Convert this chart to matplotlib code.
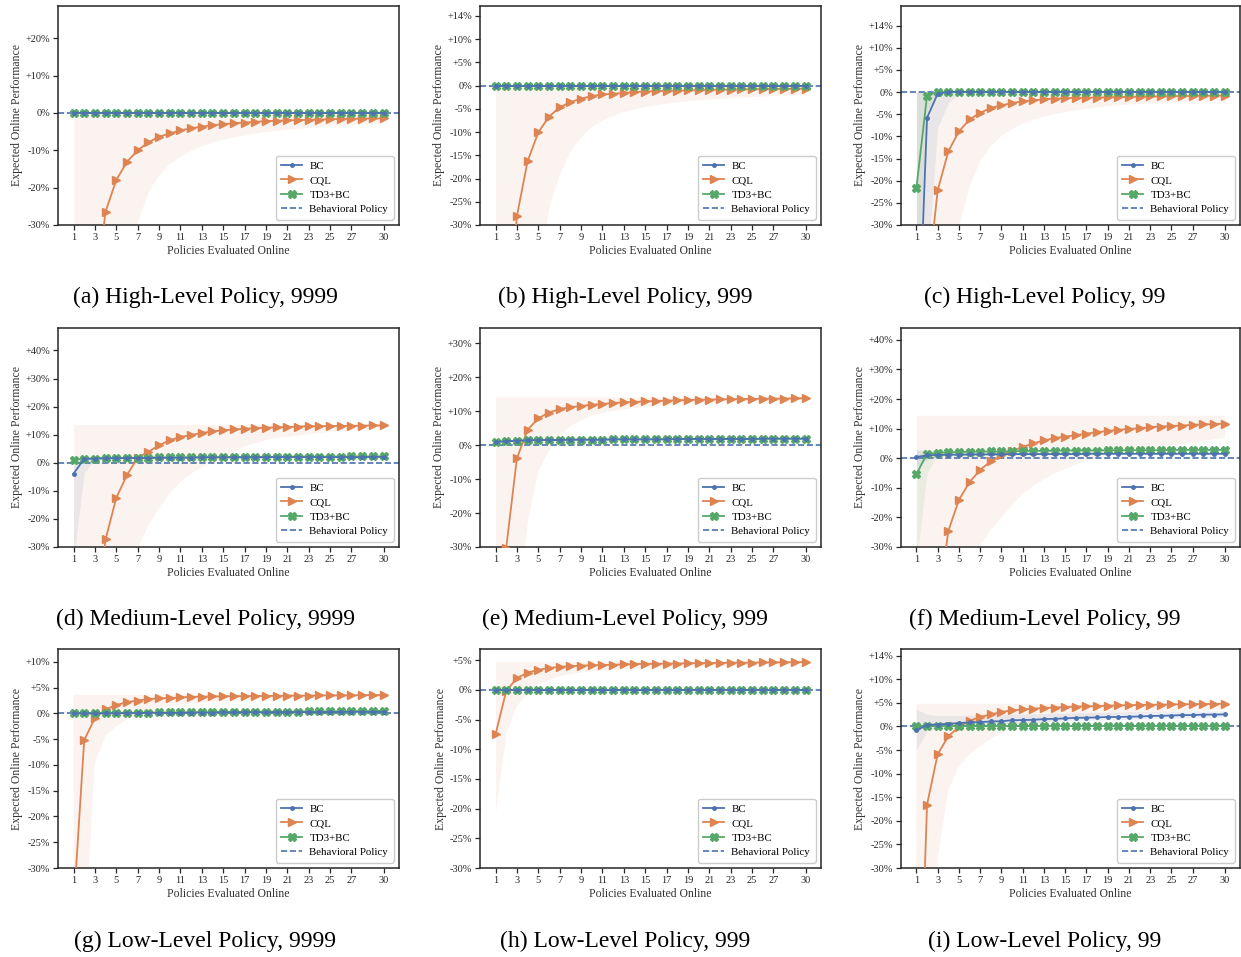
import matplotlib
matplotlib.use("Agg")
import matplotlib.pyplot as plt
import numpy as np

plt.rcParams['font.family'] = ['Liberation Serif', 'DejaVu Serif']
plt.rcParams['axes.edgecolor'] = '#262626'
plt.rcParams['xtick.color'] = '#262626'
plt.rcParams['ytick.color'] = '#262626'

BLUE = '#4C72B0'
ORANGE = '#DD8452'
GREEN = '#55A868'

""" data read off the figure (percent vs. behavioral policy) """

STEPS = list(range(1, 31))
ZERO = [0, 0, 0, 0, 0, 0, 0, 0, 0, 0, 0, 0, 0, 0, 0, 0, 0, 0, 0, 0, 0, 0, 0, 0, 0, 0, 0, 0, 0, 0]

# (a) High-Level Policy, 9999
A_CQL = [-150, -90, -50, -26.4, -18.0, -13.1, -10.0, -7.9, -6.4, -5.5, -4.7, -4.1, -3.7, -3.3, -3.0,
         -2.8, -2.6, -2.4, -2.2, -2.1, -2.0, -1.95, -1.85, -1.8, -1.7, -1.65, -1.6, -1.55, -1.5, -1.45]
A_CQL_LO = [-200, -150, -100, -70, -50, -38, -29, -21, -16.5, -13.5, -11.5, -10, -8.8, -7.8, -7,
            -6.4, -5.9, -5.4, -5.0, -4.7, -4.4, -4.1, -3.9, -3.7, -3.5, -3.3, -3.1, -3.0, -2.8, -2.7]

# (b) High-Level Policy, 999
B_CQL = [-110, -60, -28.1, -16.3, -10.1, -6.7, -4.7, -3.6, -2.8, -2.3, -1.9, -1.8, -1.6, -1.4, -1.3,
         -1.2, -1.15, -1.1, -1.05, -1.0, -0.95, -0.9, -0.9, -0.85, -0.8, -0.8, -0.75, -0.75, -0.7, -0.7]
B_CQL_LO = [-200, -150, -100, -60, -40, -26, -19, -14, -11, -8.8, -7.4, -6.4, -5.6, -5.0, -4.5,
            -4.1, -3.8, -3.5, -3.3, -3.1, -2.9, -2.8, -2.6, -2.5, -2.4, -2.3, -2.1, -2.0, -1.9, -1.8]

# (c) High-Level Policy, 99
C_BC = [-69, -5.8, -0.4, 0, 0, 0, 0, 0, 0, 0, 0, 0, 0, 0, 0, 0, 0, 0, 0, 0, 0, 0, 0, 0, 0, 0, 0, 0, 0, 0]
C_BC_LO = [-150, -40, -8, -2.5, -0.3, 0, 0, 0, 0, 0, 0, 0, 0, 0, 0, 0, 0, 0, 0, 0, 0, 0, 0, 0, 0, 0, 0, 0, 0, 0]
C_TD3 = [-21.7, -0.8, 0, 0, 0, 0, 0, 0, 0, 0, 0, 0, 0, 0, 0, 0, 0, 0, 0, 0, 0, 0, 0, 0, 0, 0, 0, 0, 0, 0]
C_TD3_LO = [-45, -4, -0.5, 0, 0, 0, 0, 0, 0, 0, 0, 0, 0, 0, 0, 0, 0, 0, 0, 0, 0, 0, 0, 0, 0, 0, 0, 0, 0, 0]
C_CQL = [-100, -44.5, -22.2, -13.4, -8.9, -6.2, -4.7, -3.6, -3.0, -2.5, -2.1, -1.9, -1.65, -1.5, -1.4,
         -1.35, -1.3, -1.25, -1.2, -1.15, -1.1, -1.05, -1.0, -1.0, -0.95, -0.9, -0.9, -0.85, -0.85, -0.8]
C_CQL_LO = [-200, -150, -100, -60, -30, -21, -15.3, -12, -9.7, -8.2, -7, -6.1, -5.4, -4.9, -4.4,
            -4.0, -3.7, -3.4, -3.1, -2.9, -2.7, -2.6, -2.4, -2.3, -2.2, -2.1, -2.0, -1.85, -1.75, -1.65]

# (d) Medium-Level Policy, 9999
D_BC = [-3.9, 1.4, 1.5, 1.6, 1.6, 1.7, 1.7, 1.7, 1.8, 1.8, 1.8, 1.8, 1.9, 1.9, 1.9,
        1.9, 1.9, 1.9, 2.0, 2.0, 2.0, 2.0, 2.0, 2.0, 2.0, 2.0, 2.0, 2.0, 2.1, 2.1]
D_BC_LO = [-35, -3.5, 1.0, 1.3, 1.4, 1.5, 1.5, 1.5, 1.6, 1.6, 1.6, 1.6, 1.7, 1.7, 1.7,
           1.7, 1.7, 1.7, 1.8, 1.8, 1.8, 1.8, 1.8, 1.8, 1.8, 1.8, 1.8, 1.8, 1.9, 1.9]
D_BC_HI = [1.5, 1.8, 1.8, 1.8, 1.8, 1.9, 1.9, 1.9, 2.0, 2.0, 2.0, 2.0, 2.1, 2.1, 2.1,
           2.1, 2.1, 2.1, 2.2, 2.2, 2.2, 2.2, 2.2, 2.2, 2.2, 2.2, 2.2, 2.2, 2.3, 2.3]
D_TD3 = [1.1, 1.4, 1.5, 1.6, 1.7, 1.7, 1.8, 1.8, 1.9, 1.9, 1.9, 2.0, 2.0, 2.0, 2.0,
         2.1, 2.1, 2.1, 2.1, 2.1, 2.2, 2.2, 2.2, 2.2, 2.2, 2.2, 2.3, 2.3, 2.3, 2.3]
D_CQL = [-150, -100, -54, -27.3, -12.5, -4.4, 1.8, 3.9, 6.2, 8.0, 9.2, 9.9, 10.6, 11.2, 11.5,
         11.9, 12.1, 12.3, 12.5, 12.6, 12.7, 12.9, 13.0, 13.0, 13.1, 13.1, 13.2, 13.2, 13.3, 13.3]
D_CQL_LO = [-200, -150, -100, -80, -60, -42, -30, -22, -15.6, -10.5, -6.5, -3.6, -1.3, 0.7, 2.4,
            4.3, 6.0, 7.2, 8.3, 9.0, 9.4, 9.9, 10.3, 10.8, 11.2, 11.5, 11.8, 12.1, 12.4, 12.7]
D_CQL_HI = [13.6, 13.6, 13.6, 13.6, 13.6, 13.6, 13.6, 13.6, 13.6, 13.6, 13.6, 13.6, 13.6, 13.6, 13.6,
            13.6, 13.6, 13.6, 13.6, 13.6, 13.6, 13.6, 13.6, 13.6, 13.6, 13.6, 13.6, 13.6, 13.6, 13.6]

# (e) Medium-Level Policy, 999
E_BC = [0.9, 1.2, 1.3, 1.4, 1.5, 1.5, 1.5, 1.6, 1.6, 1.6, 1.6, 1.7, 1.7, 1.7, 1.7,
        1.7, 1.7, 1.8, 1.8, 1.8, 1.8, 1.8, 1.8, 1.8, 1.8, 1.9, 1.9, 1.9, 1.9, 1.9]
E_TD3 = [0.9, 1.2, 1.3, 1.4, 1.5, 1.5, 1.5, 1.6, 1.6, 1.6, 1.6, 1.7, 1.7, 1.7, 1.7,
         1.7, 1.7, 1.8, 1.8, 1.8, 1.8, 1.8, 1.8, 1.8, 1.8, 1.9, 1.9, 1.9, 1.9, 1.9]
E_CQL = [-100, -30.3, -3.9, 4.5, 7.9, 9.6, 10.6, 11.2, 11.5, 11.9, 12.1, 12.4, 12.6, 12.7, 12.9,
         13.0, 13.1, 13.2, 13.3, 13.4, 13.4, 13.5, 13.5, 13.6, 13.6, 13.7, 13.7, 13.7, 13.8, 13.8]
E_CQL_LO = [-200, -120, -50, -22, -7.2, -1.3, 3.2, 5.8, 7.6, 8.8, 9.6, 10.2, 10.7, 11.1, 11.4,
            11.7, 11.9, 12.1, 12.3, 12.5, 12.6, 12.7, 12.8, 12.9, 13.1, 13.2, 13.3, 13.4, 13.4, 13.5]
E_CQL_HI = [14.2, 14.2, 14.2, 14.2, 14.2, 14.2, 14.2, 14.2, 14.2, 14.2, 14.2, 14.2, 14.2, 14.2, 14.2,
            14.2, 14.2, 14.2, 14.2, 14.2, 14.2, 14.2, 14.2, 14.2, 14.2, 14.2, 14.2, 14.2, 14.2, 14.2]

# (f) Medium-Level Policy, 99
F_BC = [0.4, 1.0, 1.1, 1.2, 1.2, 1.3, 1.3, 1.3, 1.3, 1.4, 1.4, 1.4, 1.4, 1.4, 1.4,
        1.4, 1.5, 1.5, 1.5, 1.5, 1.5, 1.5, 1.5, 1.5, 1.5, 1.5, 1.5, 1.5, 1.5, 1.5]
F_BC_LO = [-3.0, -0.5, 0.8, 1.0, 1.0, 1.1, 1.1, 1.1, 1.1, 1.2, 1.2, 1.2, 1.2, 1.2, 1.2,
           1.2, 1.3, 1.3, 1.3, 1.3, 1.3, 1.3, 1.3, 1.3, 1.3, 1.3, 1.3, 1.3, 1.3, 1.3]
F_BC_HI = [2.8, 2.0, 1.4, 1.4, 1.4, 1.5, 1.5, 1.5, 1.5, 1.6, 1.6, 1.6, 1.6, 1.6, 1.6,
           1.6, 1.7, 1.7, 1.7, 1.7, 1.7, 1.7, 1.7, 1.7, 1.7, 1.7, 1.7, 1.7, 1.7, 1.7]
F_TD3 = [-5.4, 1.5, 1.8, 2.0, 2.1, 2.2, 2.2, 2.3, 2.3, 2.4, 2.4, 2.5, 2.5, 2.5, 2.6,
         2.6, 2.6, 2.6, 2.7, 2.7, 2.7, 2.7, 2.7, 2.7, 2.8, 2.8, 2.8, 2.8, 2.8, 2.8]
F_TD3_LO = [-35, -5, 1.0, 1.7, 1.9, 2.0, 2.0, 2.1, 2.1, 2.2, 2.2, 2.3, 2.3, 2.3, 2.4,
            2.4, 2.4, 2.4, 2.5, 2.5, 2.5, 2.5, 2.5, 2.5, 2.6, 2.6, 2.6, 2.6, 2.6, 2.6]
F_TD3_HI = [3.0, 3.0, 2.6, 2.4, 2.4, 2.4, 2.4, 2.5, 2.5, 2.6, 2.6, 2.7, 2.7, 2.7, 2.8,
            2.8, 2.8, 2.8, 2.9, 2.9, 2.9, 2.9, 2.9, 2.9, 3.0, 3.0, 3.0, 3.0, 3.0, 3.0]
F_CQL = [-130, -80, -51.6, -24.6, -14.1, -8.1, -3.9, -1.1, 1.0, 2.5, 3.8, 5.0, 6.0, 6.8, 7.3,
         7.8, 8.3, 8.8, 9.2, 9.6, 9.9, 10.1, 10.5, 10.7, 10.9, 11.0, 11.3, 11.4, 11.5, 11.7]
F_CQL_LO = [-200, -150, -100, -75, -55, -40, -29, -24, -19.7, -15.5, -11.8, -9.1, -6.8, -5.0, -3.4,
            -1.9, -0.6, 0.3, 1.0, 1.7, 2.3, 2.9, 3.5, 4.0, 4.5, 5.0, 5.6, 6.1, 6.6, 7.1]
F_CQL_HI = [14.5, 14.5, 14.5, 14.5, 14.5, 14.5, 14.5, 14.5, 14.5, 14.5, 14.5, 14.5, 14.5, 14.5, 14.5,
            14.5, 14.5, 14.5, 14.5, 14.5, 14.5, 14.5, 14.5, 14.5, 14.5, 14.5, 14.5, 14.5, 14.5, 14.5]

# (g) Low-Level Policy, 9999
G_BC = [0, 0, 0, 0, 0, 0.05, 0.05, 0.1, 0.1, 0.1, 0.1, 0.15, 0.15, 0.15, 0.2,
        0.2, 0.2, 0.2, 0.2, 0.25, 0.25, 0.25, 0.25, 0.25, 0.3, 0.3, 0.3, 0.3, 0.3, 0.3]
G_TD3 = [0, 0, 0.05, 0.1, 0.1, 0.1, 0.15, 0.15, 0.2, 0.2, 0.2, 0.25, 0.25, 0.25, 0.3,
         0.3, 0.3, 0.3, 0.35, 0.35, 0.35, 0.35, 0.4, 0.4, 0.4, 0.4, 0.45, 0.45, 0.45, 0.5]
G_CQL = [-38, -5.2, -0.9, 0.8, 1.6, 2.2, 2.5, 2.8, 2.9, 3.0, 3.1, 3.2, 3.25, 3.3, 3.3,
         3.35, 3.35, 3.4, 3.4, 3.4, 3.45, 3.45, 3.45, 3.5, 3.5, 3.5, 3.5, 3.55, 3.55, 3.55]
G_CQL_LO = [-200, -45, -9.6, -4.4, -2.5, -1.2, -0.2, 0.5, 1.1, 1.4, 1.7, 1.9, 2.1, 2.3, 2.4,
            2.5, 2.6, 2.6, 2.7, 2.7, 2.8, 2.8, 2.9, 2.9, 3.0, 3.0, 3.1, 3.1, 3.2, 3.2]
G_CQL_HI = [3.6, 3.6, 3.6, 3.6, 3.6, 3.6, 3.6, 3.6, 3.6, 3.6, 3.6, 3.6, 3.6, 3.6, 3.6,
            3.6, 3.6, 3.6, 3.6, 3.6, 3.6, 3.6, 3.6, 3.6, 3.6, 3.6, 3.6, 3.6, 3.6, 3.6]

# (h) Low-Level Policy, 999
H_CQL = [-7.5, -0.2, 2.0, 2.9, 3.4, 3.7, 3.9, 4.0, 4.1, 4.15, 4.2, 4.25, 4.3, 4.35, 4.4,
         4.4, 4.45, 4.45, 4.5, 4.5, 4.55, 4.55, 4.6, 4.6, 4.6, 4.65, 4.65, 4.65, 4.7, 4.7]
H_CQL_LO = [-20.5, -7, -2.5, -0.5, 1.0, 1.8, 2.4, 2.8, 3.0, 3.2, 3.35, 3.5, 3.6, 3.7, 3.8,
            3.85, 3.9, 3.95, 4.0, 4.05, 4.1, 4.1, 4.15, 4.2, 4.2, 4.25, 4.3, 4.3, 4.35, 4.4]
H_CQL_HI = [4.8, 4.8, 4.8, 4.8, 4.8, 4.8, 4.8, 4.8, 4.8, 4.8, 4.8, 4.8, 4.8, 4.8, 4.8,
            4.8, 4.8, 4.8, 4.8, 4.8, 4.8, 4.8, 4.8, 4.8, 4.8, 4.8, 4.8, 4.8, 4.8, 4.8]

# (i) Low-Level Policy, 99
I_BC = [-0.85, 0.3, 0.4, 0.55, 0.7, 0.85, 0.9, 1.05, 1.1, 1.3, 1.35, 1.4, 1.55, 1.6, 1.7,
        1.8, 1.85, 1.9, 2.0, 2.0, 2.05, 2.1, 2.2, 2.25, 2.3, 2.4, 2.4, 2.5, 2.5, 2.55]
I_BC_LO = [-5, -1, -0.3, 0, 0.1, 0.2, 0.3, 0.4, 0.5, 0.6, 0.7, 0.8, 0.9, 1.0, 1.1,
           1.2, 1.3, 1.3, 1.4, 1.4, 1.5, 1.5, 1.6, 1.6, 1.7, 1.7, 1.8, 1.8, 1.9, 1.9]
I_BC_HI = [3.6, 2.6, 2.3, 2.3, 2.3, 2.4, 2.4, 2.5, 2.5, 2.6, 2.6, 2.7, 2.7, 2.8, 2.8,
           2.9, 2.9, 3.0, 3.0, 3.0, 3.1, 3.1, 3.1, 3.2, 3.2, 3.2, 3.3, 3.3, 3.3, 3.3]
I_TD3 = [0.1, 0.1, 0.1, 0.1, 0.1, 0.1, 0.1, 0.1, 0.1, 0.1, 0.1, 0.1, 0.1, 0.1, 0.1,
         0.1, 0.1, 0.1, 0.1, 0.1, 0.1, 0.1, 0.1, 0.1, 0.1, 0.1, 0.1, 0.1, 0.1, 0.1]
I_CQL = [-83.6, -16.6, -5.9, -2.1, -0.1, 1.2, 2.0, 2.55, 3.05, 3.4, 3.6, 3.75, 3.9, 4.0, 4.1,
         4.2, 4.25, 4.3, 4.4, 4.45, 4.5, 4.55, 4.6, 4.6, 4.65, 4.7, 4.7, 4.75, 4.75, 4.8]
I_CQL_LO = [-200, -60, -28, -13.5, -8.5, -6, -4.2, -2.6, -1.4, -0.6, -0.1, 0.4, 0.8, 1.2, 1.5,
            1.8, 2.0, 2.2, 2.4, 2.5, 2.7, 2.8, 2.9, 3.0, 3.1, 3.2, 3.3, 3.4, 3.5, 3.6]
I_CQL_HI = [4.8, 4.8, 4.8, 4.8, 4.8, 4.8, 4.8, 4.8, 4.8, 4.8, 4.8, 4.8, 4.8, 4.8, 4.8,
            4.8, 4.8, 4.8, 4.8, 4.8, 4.8, 4.8, 4.8, 4.8, 4.8, 4.8, 4.8, 4.8, 4.8, 4.8]

# y ticks per panel (the paper labels the +15 tick as "+14%")
TICKS_10 = [-30, -20, -10, 0, 10, 20]
LABELS_A = ['-30%', '-20%', '-10%', '0%', '+10%', '+20%']
TICKS_5 = [-30, -25, -20, -15, -10, -5, 0, 5, 10, 15]
LABELS_5 = ['-30%', '-25%', '-20%', '-15%', '-10%', '-5%', '0%', '+5%', '+10%', '+14%']
TICKS_D = [-30, -20, -10, 0, 10, 20, 30, 40]
LABELS_D = ['-30%', '-20%', '-10%', '0%', '+10%', '+20%', '+30%', '+40%']
TICKS_E = [-30, -20, -10, 0, 10, 20, 30]
LABELS_E = ['-30%', '-20%', '-10%', '0%', '+10%', '+20%', '+30%']
TICKS_G = [-30, -25, -20, -15, -10, -5, 0, 5, 10]
LABELS_G = ['-30%', '-25%', '-20%', '-15%', '-10%', '-5%', '0%', '+5%', '+10%']
TICKS_H = [-30, -25, -20, -15, -10, -5, 0, 5]
LABELS_H = ['-30%', '-25%', '-20%', '-15%', '-10%', '-5%', '0%', '+5%']
XTICKS = [1, 3, 5, 7, 9, 11, 13, 15, 17, 19, 21, 23, 25, 27, 30]

CAPTIONS = ["(a) High-Level Policy, 9999", "(b) High-Level Policy, 999", "(c) High-Level Policy, 99",
            "(d) Medium-Level Policy, 9999", "(e) Medium-Level Policy, 999", "(f) Medium-Level Policy, 99",
            "(g) Low-Level Policy, 9999", "(h) Low-Level Policy, 999", "(i) Low-Level Policy, 99"]

panels = [
    dict(bc=ZERO, td3=ZERO, cql=A_CQL, cql_band=(A_CQL_LO, ZERO), yt=TICKS_10, yl=LABELS_A, top=28.6),
    dict(bc=ZERO, td3=ZERO, cql=B_CQL, cql_band=(B_CQL_LO, ZERO), yt=TICKS_5, yl=LABELS_5, top=17.1),
    dict(bc=C_BC, td3=C_TD3, cql=C_CQL, cql_band=(C_CQL_LO, ZERO), bc_band=(C_BC_LO, ZERO),
         td3_band=(C_TD3_LO, ZERO), yt=TICKS_5, yl=LABELS_5, top=19.4),
    dict(bc=D_BC, td3=D_TD3, cql=D_CQL, cql_band=(D_CQL_LO, D_CQL_HI), bc_band=(D_BC_LO, D_BC_HI),
         yt=TICKS_D, yl=LABELS_D, top=48),
    dict(bc=E_BC, td3=E_TD3, cql=E_CQL, cql_band=(E_CQL_LO, E_CQL_HI), yt=TICKS_E, yl=LABELS_E, top=34.5),
    dict(bc=F_BC, td3=F_TD3, cql=F_CQL, cql_band=(F_CQL_LO, F_CQL_HI), bc_band=(F_BC_LO, F_BC_HI),
         td3_band=(F_TD3_LO, F_TD3_HI), yt=TICKS_D, yl=LABELS_D, top=44),
    dict(bc=G_BC, td3=G_TD3, cql=G_CQL, cql_band=(G_CQL_LO, G_CQL_HI), yt=TICKS_G, yl=LABELS_G, top=12.5),
    dict(bc=ZERO, td3=ZERO, cql=H_CQL, cql_band=(H_CQL_LO, H_CQL_HI), yt=TICKS_H, yl=LABELS_H, top=6.9),
    dict(bc=I_BC, td3=I_TD3, cql=I_CQL, cql_band=(I_CQL_LO, I_CQL_HI), bc_band=(I_BC_LO, I_BC_HI),
         yt=TICKS_5, yl=LABELS_5, top=16.4),
]

W, H = 1241, 957
fig = plt.figure(figsize=(W / 100, H / 100), dpi=100)

col_left = [58, 480, 901]
col_width = [341, 341, 339]
row_top = [6, 328, 649]
ax_h = 219
cap_x = [205, 625, 1045]
cap_y = [297, 619, 941]

x = np.array(STEPS)
for i, p in enumerate(panels):
    r, c = divmod(i, 3)
    ax = fig.add_axes([col_left[c] / W, 1 - (row_top[r] + ax_h) / H, col_width[c] / W, ax_h / H])

    if 'bc_band' in p:
        ax.fill_between(x, p['bc_band'][0], p['bc_band'][1], color=BLUE, alpha=0.1, lw=0)
    ax.fill_between(x, p['cql_band'][0], p['cql_band'][1], color=ORANGE, alpha=0.09, lw=0)
    if 'td3_band' in p:
        ax.fill_between(x, p['td3_band'][0], p['td3_band'][1], color=GREEN, alpha=0.1, lw=0)

    ax.plot(x, p['bc'], '.-', color=BLUE, lw=1.3, markersize=5, label='BC', zorder=4)
    ax.plot(x, p['cql'], '>-', color=ORANGE, lw=1.3, markersize=6, label='CQL', zorder=3)
    ax.plot(x, p['td3'], 'X-', color=GREEN, lw=1.3, markersize=6, label='TD3+BC', zorder=3)
    ax.axhline(0, ls='--', color=BLUE, lw=1.2, label='Behavioral Policy', zorder=2)

    ax.set_xlim(-0.45, 31.45)
    ax.set_ylim(-30, p['top'])
    ax.set_xticks(XTICKS)
    ax.set_yticks(p['yt'])
    ax.set_yticklabels(p['yl'])
    ax.tick_params(labelsize=7.5, length=3.5, width=0.9, direction='out', pad=2)
    for s in ax.spines.values():
        s.set_linewidth(1.1)
    ax.set_xlabel("Policies Evaluated Online", fontsize=8.5, color='#333333', labelpad=2.5)
    ax.set_ylabel("Expected Online Performance", fontsize=8.5, color='#333333', labelpad=2)
    ax.legend(loc='lower right', fontsize=7.8, handlelength=1.9, handletextpad=0.7, borderpad=0.5,
              labelspacing=0.45, framealpha=1, edgecolor='#cccccc', fancybox=True)

    fig.text(cap_x[c] / W, 1 - cap_y[r] / H, CAPTIONS[i], ha='center', va='center', fontsize=17)

plt.savefig("out.png", dpi=100)
